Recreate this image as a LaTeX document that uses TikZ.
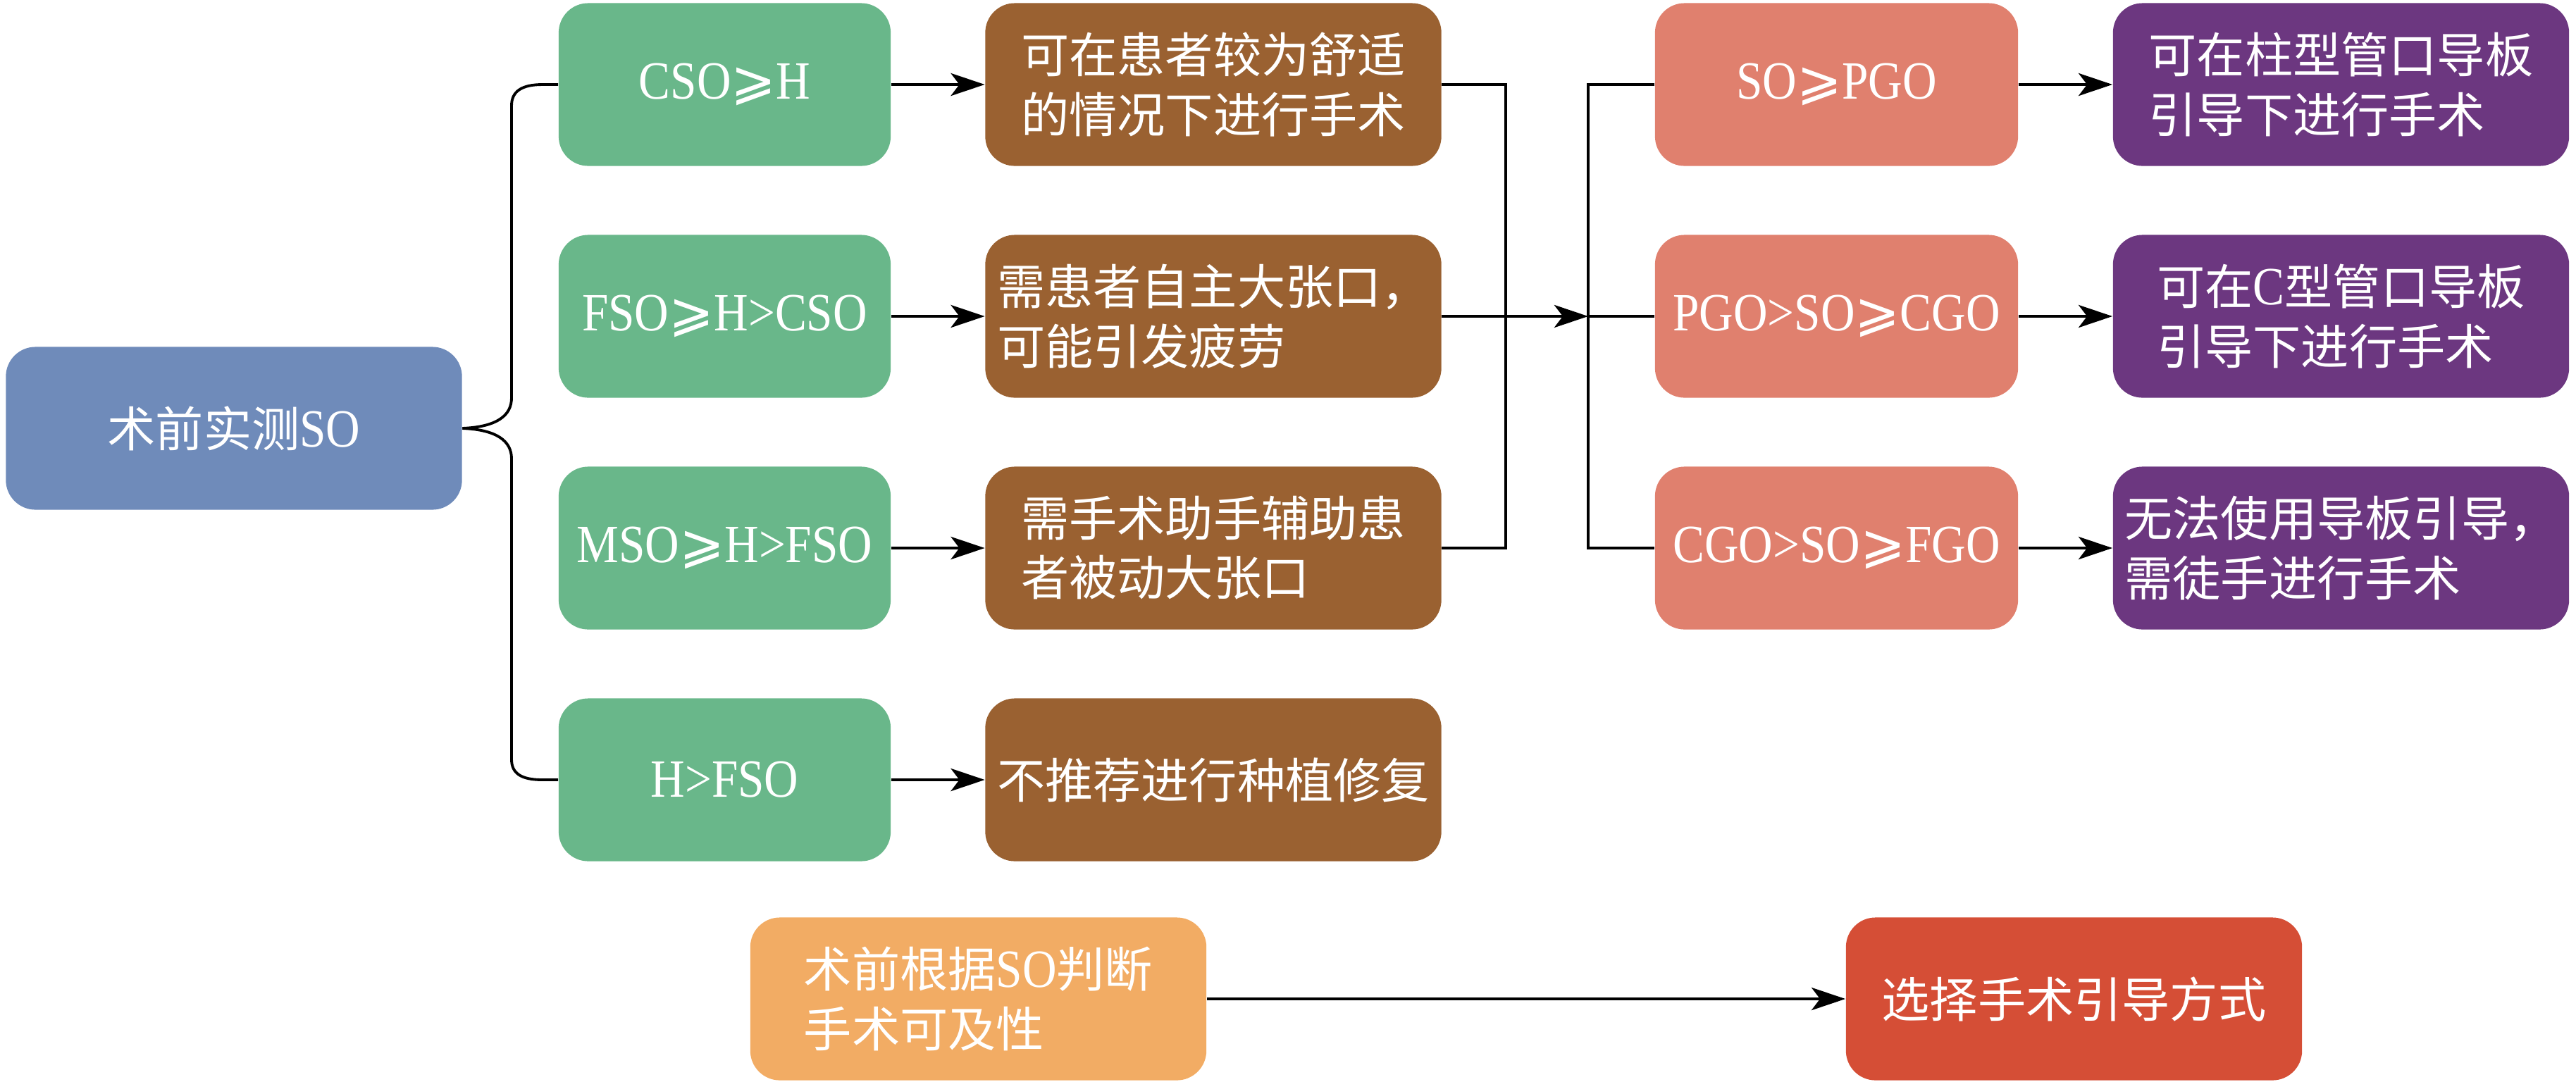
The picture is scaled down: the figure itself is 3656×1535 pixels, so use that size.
\documentclass[tikz,border=0pt]{standalone}
\usepackage{fontspec}
\setmainfont{Liberation Serif}[Scale=1.12, FakeStretch=0.88]
\newfontfamily\cjk{Noto Sans CJK SC}
\newfontfamily\symf{DejaVu Sans}[Scale=1.12]
\usetikzlibrary{arrows.meta}
\newcommand{\zh}[1]{{\cjk #1}}
\newcommand{\gsl}{{\symf ⩾}}
\definecolor{cBlue}{HTML}{6F8BBA}
\definecolor{cGreen}{HTML}{69B78A}
\definecolor{cBrown}{HTML}{9A6131}
\definecolor{cSalmon}{HTML}{E0806E}
\definecolor{cPurple}{HTML}{6C3780}
\definecolor{cOrange}{HTML}{F2AC64}
\definecolor{cRed}{HTML}{D54E36}
\begin{document}
\begin{tikzpicture}[x=0.01cm,y=-0.01cm,
  box/.style={rounded corners=0.42cm, inner sep=0pt, text=white,
    font=\fontsize{19.4pt}{24pt}\selectfont, align=center,
    minimum height=2.31cm},
  wide/.style={box, minimum width=6.47cm},
  bluebox/.style={wide, fill=cBlue},
  greenbox/.style={box, fill=cGreen, minimum width=4.71cm},
  brownbox/.style={wide, fill=cBrown, align=left},
  salmonbox/.style={box, fill=cSalmon, minimum width=5.15cm},
  purplebox/.style={wide, fill=cPurple, align=left},
  orangebox/.style={wide, fill=cOrange, align=left},
  redbox/.style={wide, fill=cRed},
  arr/.style={line width=1.4pt, -{Stealth[length=0.48cm,width=0.32cm,inset=0.12cm]}},
  ln/.style={line width=1.4pt},
  brace/.style={line width=1.1pt}
]
\useasboundingbox (0,0) rectangle (3656,1535);

\node[bluebox] (b) at (332,608) {\zh{术前实测}SO};

\node[greenbox] (g1) at (1028.5,120) {CSO\gsl H};
\node[greenbox] (g2) at (1028.5,449) {FSO\gsl H>CSO};
\node[greenbox] (g3) at (1028.5,778) {MSO\gsl H>FSO};
\node[greenbox] (g4) at (1028.5,1107) {H>FSO};

\node[brownbox] (r1) at (1722,120) {\zh{可在患者较为舒适}\\\zh{的情况下进行手术}};
\node[brownbox] (r2) at (1722,449) {\zh{需患者自主大张口，}\\\zh{可能引发疲劳}};
\node[brownbox] (r3) at (1722,778) {\zh{需手术助手辅助患}\\\zh{者被动大张口}};
\node[wide, fill=cBrown] (r4) at (1722,1107) {\zh{不推荐进行种植修复}};

\node[salmonbox] (s1) at (2606.5,120) {SO\gsl PGO};
\node[salmonbox] (s2) at (2606.5,449) {PGO>SO\gsl CGO};
\node[salmonbox] (s3) at (2606.5,778) {CGO>SO\gsl FGO};

\node[purplebox] (p1) at (3322.5,120) {\zh{可在柱型管口导板}\\\zh{引导下进行手术}};
\node[purplebox] (p2) at (3322.5,449) {\zh{可在}C\zh{型管口导板}\\\zh{引导下进行手术}};
\node[purplebox] (p3) at (3322.5,778) {\zh{无法使用导板引导，}\\\zh{需徒手进行手术}};

\node[orangebox] (o) at (1388.5,1418) {\zh{术前根据}SO\zh{判断}\\\zh{手术可及性}};
\node[redbox] (d) at (2943.5,1418) {\zh{选择手术引导方式}};

% brace
\coordinate (bt) at (726,150);
\coordinate (bb) at (726,1078);
\draw[brace] (b.east) .. controls (705,606) and (726,590) .. (726,565) -- (bt)
  .. controls (726,130) and (740,120) .. (770,120) -- (g1.west);
\draw[brace] (b.east) .. controls (705,610) and (726,626) .. (726,651) -- (bb)
  .. controls (726,1098) and (740,1107) .. (770,1107) -- (g4.west);

% green -> brown
\draw[arr] (g1.east) -- (r1.west);
\draw[arr] (g2.east) -- (r2.west);
\draw[arr] (g3.east) -- (r3.west);
\draw[arr] (g4.east) -- (r4.west);

% brown -> salmon
\coordinate (m1) at (2137,120);
\coordinate (m3) at (2137,778);
\coordinate (j) at (2254,449);
\coordinate (j1) at (2254,120);
\coordinate (j3) at (2254,778);
\draw[ln] (r1.east) -- (m1) -- (m3) -- (r3.east);
\draw[arr] (r2.east) -- (j);
\draw[ln] (s1.west) -- (j1) -- (j3) -- (s3.west);
\draw[ln] (j) -- (s2.west);

% salmon -> purple
\draw[arr] (s1.east) -- (p1.west);
\draw[arr] (s2.east) -- (p2.west);
\draw[arr] (s3.east) -- (p3.west);

\draw[arr] (o.east) -- (d.west);
\end{tikzpicture}
\end{document}
